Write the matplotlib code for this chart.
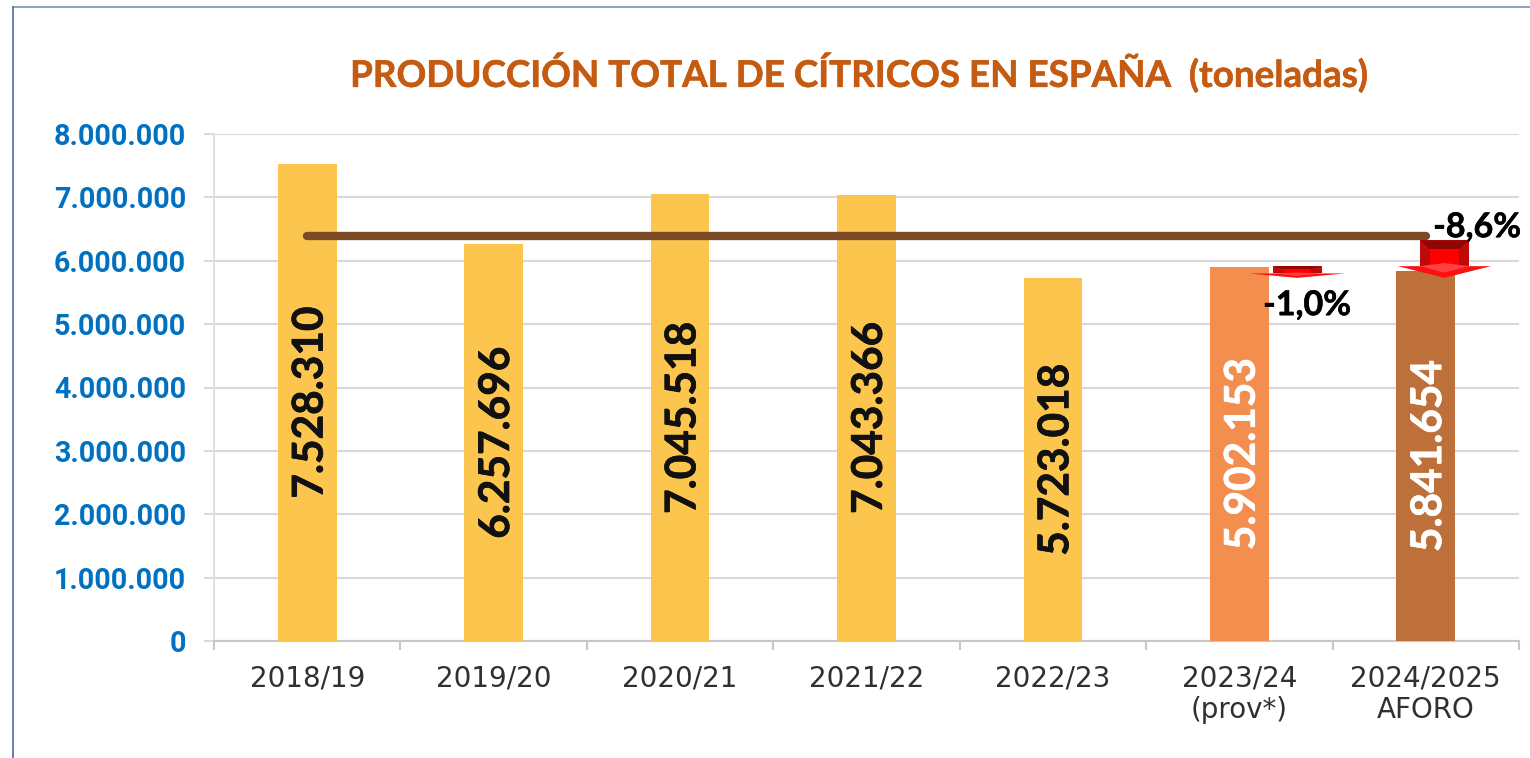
import numpy as np
import matplotlib.pyplot as plt
import matplotlib.patheffects as pe
from matplotlib.patches import Polygon
from matplotlib.lines import Line2D

seasons = ['2018/19', '2019/20', '2020/21', '2021/22', '2022/23', '2023/24\n(prov*)', '2024/2025\nAFORO']
produccion = [7528310, 6257696, 7045518, 7043366, 5723018, 5902153, 5841654]
bar_labels = ['7.528.310', '6.257.696', '7.045.518', '7.043.366', '5.723.018', '5.902.153', '5.841.654']
bar_colors = ['#FCC54E', '#FCC54E', '#FCC54E', '#FCC54E', '#FCC54E', '#F38E4F', '#BE703B']
label_colors = ['#111111', '#111111', '#111111', '#111111', '#111111', 'white', 'white']
media = 6390000
yticks = [0, 1000000, 2000000, 3000000, 4000000, 5000000, 6000000, 7000000, 8000000]
ylabels = ['0', '1.000.000', '2.000.000', '3.000.000', '4.000.000', '5.000.000', '6.000.000', '7.000.000', '8.000.000']

W, H = 1530, 758
fig = plt.figure(figsize=(W / 100, H / 100), dpi=100)
ax = fig.add_axes([214 / W, (H - 641) / H, (1519 - 214) / W, (641 - 134) / H])

x = np.arange(len(seasons))
ax.bar(x, produccion, width=0.315, color=bar_colors, zorder=3)
ax.plot([x[0], x[-1]], [media, media], color='#7B4A27', lw=6, solid_capstyle='round', zorder=4)

for i, v in enumerate(produccion):
    t = ax.text(i + 0.018, v / 2, bar_labels[i], rotation=90, ha='center', va='center', color=label_colors[i],
                fontsize=30.5, fontweight='bold', family='Lato', zorder=5)
    t.set_path_effects([pe.withStroke(linewidth=0.5, foreground=label_colors[i])])

ax.set_xlim(-0.5, 6.5)
ax.set_ylim(0, 8000000)
ax.set_yticks(yticks)
ax.set_yticklabels(ylabels, fontsize=20.6, fontweight='bold', family='Roboto', color='#0070C0')
ax.set_xticks(x)
ax.set_xticklabels(seasons, fontsize=20, family='DejaVu Sans', color='#303030', linespacing=1.15)
ax.set_xticks(np.arange(-0.5, 7), minor=True)
ax.tick_params(axis='x', which='major', length=0, pad=17)
ax.tick_params(axis='x', which='minor', length=6.5, width=1.5, color='#C8C8C8')
ax.tick_params(axis='y', length=7.2, width=1.4, color='#D9D9D9', pad=13)
ax.grid(axis='y', color='#D9D9D9', lw=1.5, zorder=0)
ax.set_axisbelow(True)
for s in ['top', 'right']:
    ax.spines[s].set_visible(False)
ax.spines['left'].set_color('#E0E0E0')
ax.spines['left'].set_linewidth(1.5)
ax.spines['bottom'].set_color('#C8C8C8')
ax.spines['bottom'].set_linewidth(1.5)


def flecha(cx, top, neck, tip, shaft, wing):
    # red block arrow with a bevel, drawn in data units
    d = top - neck
    inset = shaft * 0.42
    ax.add_patch(Polygon([(cx - shaft, top), (cx + shaft, top), (cx + shaft, neck), (cx - shaft, neck)],
                         color='#C00A0A', lw=0, zorder=6))
    ax.add_patch(Polygon([(cx - shaft, top), (cx + shaft, top), (cx + shaft - inset, top - d * 0.35), (cx - shaft + inset, top - d * 0.35)],
                         color='#8E0606', lw=0, zorder=7))
    ax.add_patch(Polygon([(cx - shaft + inset, top - d * 0.35), (cx + shaft - inset, top - d * 0.35),
                          (cx + shaft - inset, neck), (cx - shaft + inset, neck)],
                         color='#FF0000', lw=0, zorder=7))
    ax.add_patch(Polygon([(cx - wing, neck), (cx + wing, neck), (cx, tip)], color='#FF1010', lw=0, zorder=7))
    ax.add_patch(Polygon([(cx - shaft, neck), (cx, neck + d * 0.12), (cx + shaft, neck), (cx, tip + (neck - tip) * 0.45)],
                         color='#FF4040', lw=0, zorder=8))


flecha(5.31, 5915000, 5800000, 5730000, 0.131, 0.26)
flecha(6.10, 6320000, 5915000, 5730000, 0.131, 0.25)

for txt, tx, ty in [('-1,0%', 5.363, 5300000), ('-8,6%', 6.275, 6530000)]:
    t = ax.text(tx, ty, txt, ha='center', va='center', fontsize=24.5, fontweight='bold',
                family='Lato', color='black', zorder=9)
    t.set_path_effects([pe.withStroke(linewidth=0.4, foreground='black')])

tit = fig.text(858 / W, 1 - 73 / H, 'PRODUCCIÓN TOTAL DE CÍTRICOS EN ESPAÑA  (toneladas)', ha='center', va='center',
               fontsize=26.5, fontweight='bold', family='Lato', color='#C55A11')
tit.set_path_effects([pe.withStroke(linewidth=0.4, foreground='#C55A11')])

# slide frame, only top and left show
fig.add_artist(Line2D([13 / W, 1], [1 - 7 / H, 1 - 7 / H], color='#7F8FB5', lw=1.2))
fig.add_artist(Line2D([13 / W, 13 / W], [0, 1 - 7 / H], color='#4F6A9C', lw=1.2))

fig.savefig('out.png', dpi=100)
